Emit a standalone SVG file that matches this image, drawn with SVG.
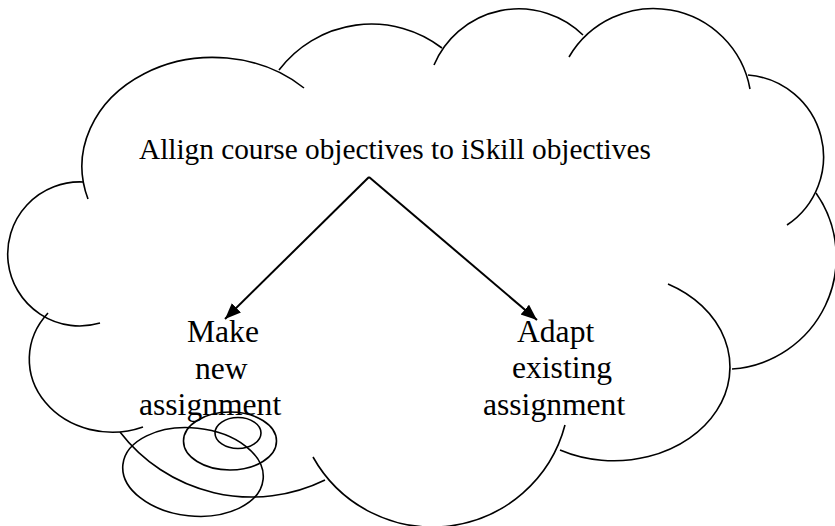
<svg xmlns="http://www.w3.org/2000/svg" width="835" height="526" viewBox="0 0 835 526">
<style>
.c{fill:none;stroke:#000;stroke-width:1.6}
.t{font-family:"Liberation Serif","Times New Roman",serif;fill:#000}
.big{font-size:29.3px}
.lab{font-size:31.6px}
.e{fill:none;stroke:#000;stroke-width:2}
</style>
<defs>
<marker id="ah" markerUnits="userSpaceOnUse" markerWidth="18" markerHeight="14" refX="16" refY="6.5" orient="auto">
<path d="M0,0 L16,6.5 L0,13 z" fill="#000"/>
</marker>
</defs>
<rect width="835" height="526" fill="#fff"/>
<g id="cloud">
<path class="c" d="M88,199 A131,109 0 0 1 304,88"/>
<path class="c" d="M279,70 A116,116 0 0 1 442,48"/>
<path class="c" d="M434,65 A92,92 0 0 1 583,35"/>
<path class="c" d="M569,57 A98,98 0 0 1 750,89"/>
<path class="c" d="M748,75 A82,82 0 0 1 787,225"/>
<path class="c" d="M816,193 A112,112 0 0 1 732,369"/>
<path class="c" d="M668,284 A115,93 0 1 1 560,450"/>
<path class="c" d="M565,425 A137,137 0 0 1 313,457"/>
<path class="c" d="M325,480 A166,166 0 0 1 120,432"/>
<path class="c" d="M143,427 A83,73 0 0 1 48,313"/>
<path class="c" d="M100,323 A72,72 0 1 1 83,182"/>
</g>
<g id="bubbles">
<ellipse class="c" cx="238" cy="433" rx="23" ry="15.5"/>
<ellipse class="c" cx="230" cy="441" rx="46.5" ry="29"/>
<ellipse class="c" cx="193" cy="472" rx="70.5" ry="44" transform="rotate(6 193 472)"/>
</g>
<g id="node-top">
<text class="t big" x="139" y="159">Allign course objectives to iSkill objectives</text>
</g>
<g id="node-left">
<text class="t lab" x="187" y="342">Make</text>
<text class="t lab" x="195" y="379">new</text>
<text class="t lab" x="139" y="415">assignment</text>
</g>
<g id="node-right">
<text class="t lab" x="517" y="342">Adapt</text>
<text class="t lab" x="512" y="378">existing</text>
<text class="t lab" x="483" y="415">assignment</text>
</g>
<g id="connectors">
<line class="e" x1="369" y1="177" x2="225" y2="319" marker-end="url(#ah)"/>
<line class="e" x1="369" y1="177" x2="537" y2="320" marker-end="url(#ah)"/>
</g>
</svg>
